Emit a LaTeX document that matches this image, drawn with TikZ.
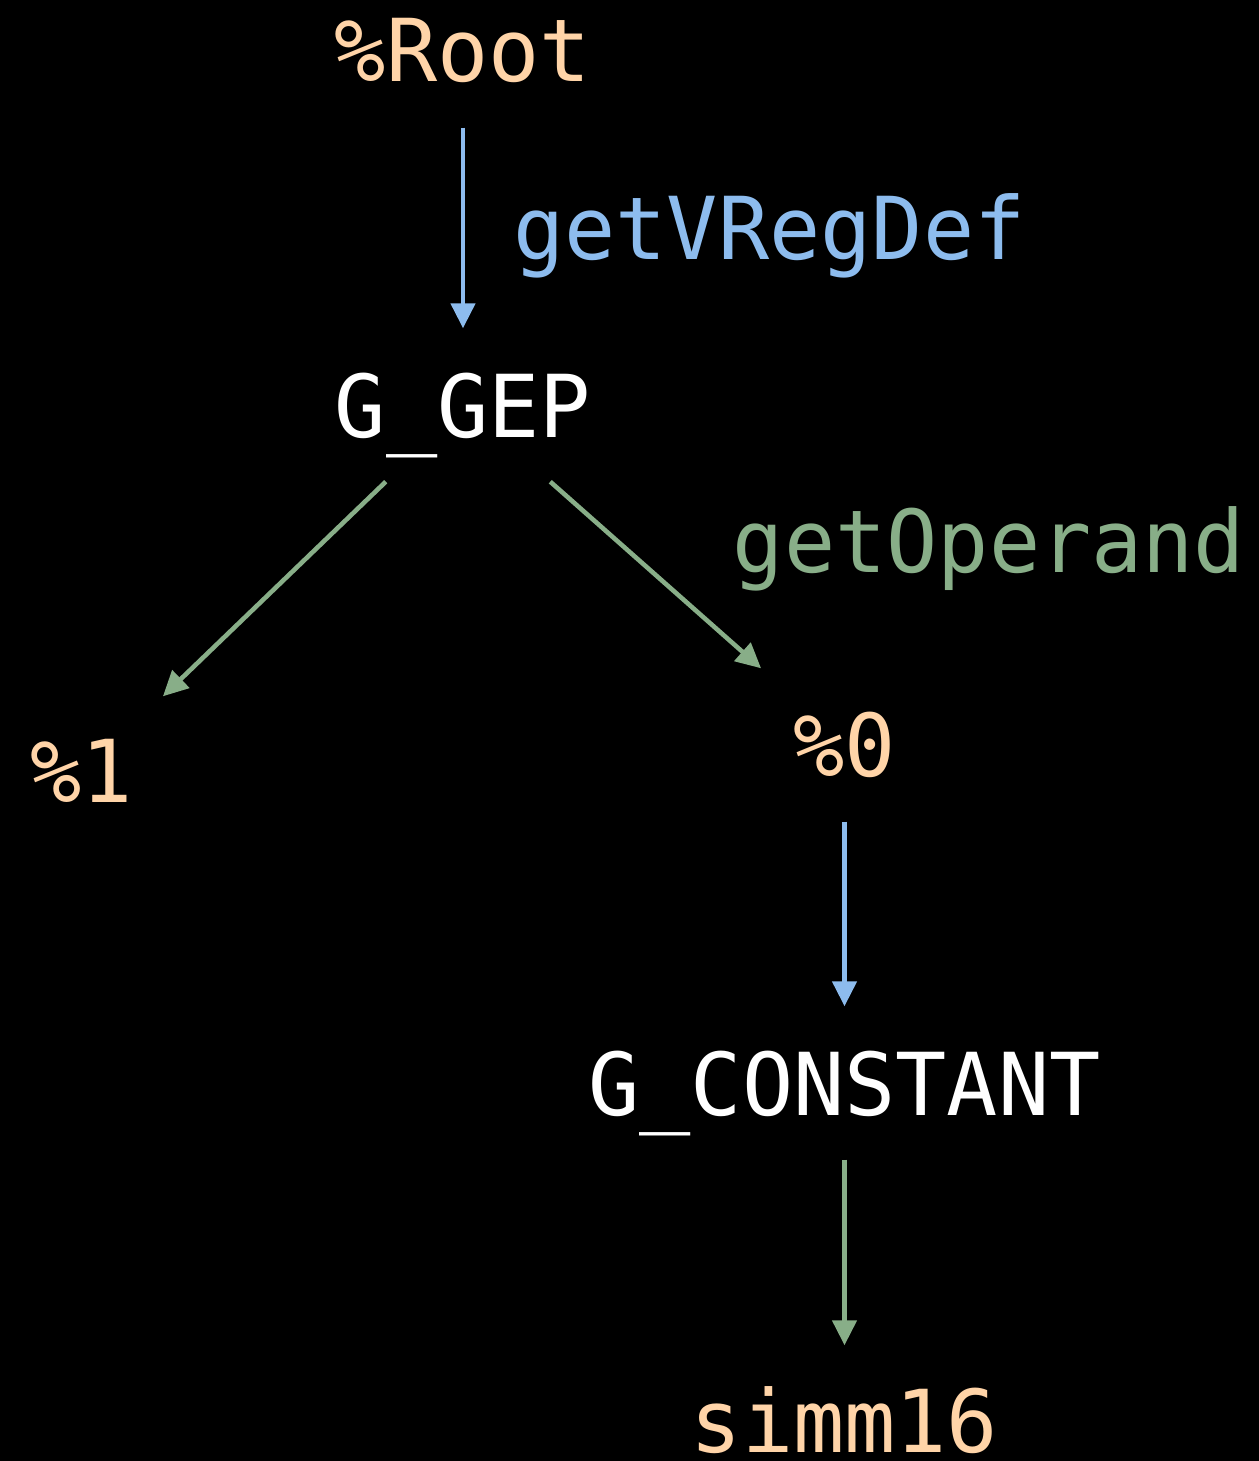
\documentclass[tikz,border=0pt]{standalone}
\usepackage{fontspec}
\setmonofont[FakeStretch=0.98]{DejaVu Sans Mono}
\usepackage{tikz}
\usetikzlibrary{arrows.meta,positioning}
\usepackage{xcolor}
\definecolor{valorange}{HTML}{FFD4A8}
\definecolor{defblue}{HTML}{8DBCEE}
\definecolor{opgreen}{HTML}{88AE88}

\begin{document}
\begin{tikzpicture}[
  font=\ttfamily\fontsize{24.7pt}{30pt}\selectfont,
  >={Triangle[length=2.5mm, width=2.4mm]},
  txt/.style={inner sep=0pt, text height=6.3mm, text depth=0pt, anchor=base},
  val/.style={txt, text=valorange},
  instr/.style={txt, text=white},
  lbl/.style={inner sep=0pt, text height=6.3mm, text depth=0pt},
  defedge/.style={->, draw=defblue, line width=1.3pt,
                  shorten <=4.5mm, shorten >=4.5mm},
  opedge/.style={->, draw=opgreen, line width=1.3pt}
]

% ---------- Canvas ----------
\useasboundingbox (0,0) rectangle (12.59,-14.61);
\fill[black] (0,0) rectangle (12.59,-14.61);

% ---------- Root and its defining instruction ----------
\node[val] (root) at (4.63,-0.82) {\%Root};
\node[below=3.55cm of root.base, instr] (gep) {G\_GEP};
\draw[defedge] (root.south) -- (gep.north)
  node[lbl, midway, anchor=west, xshift=4.8mm, text=defblue] {getVRegDef};

% ---------- Operands of G_GEP ----------
\node[below left=3.65cm and 3.815cm of gep.base, val] (op1) {\%1};
\node[below right=3.39cm and 3.815cm of gep.base, val] (op0) {\%0};
\draw[opedge] ([shift={(0.515,-0.44)}]gep.south west)
  -- ([shift={(0.295,0.42)}]op1.north east);
\draw[opedge] ([shift={(-0.415,-0.44)}]gep.south east)
  -- ([shift={(-0.315,0.44)}]op0.north west)
  node[lbl, midway, anchor=south west, xshift=7.5mm, text=opgreen] {getOperand};

% ---------- %0 down to the immediate ----------
\node[below=3.39cm of op0.base, instr] (cst) {G\_CONSTANT};
\node[below=3.37cm of cst.base, val] (imm) {simm16};
\draw[defedge] (op0.south) -- (cst.north);
\draw[opedge, shorten <=4.4mm, shorten >=4.3mm] (cst.south) -- (imm.north);

\end{tikzpicture}
\end{document}
